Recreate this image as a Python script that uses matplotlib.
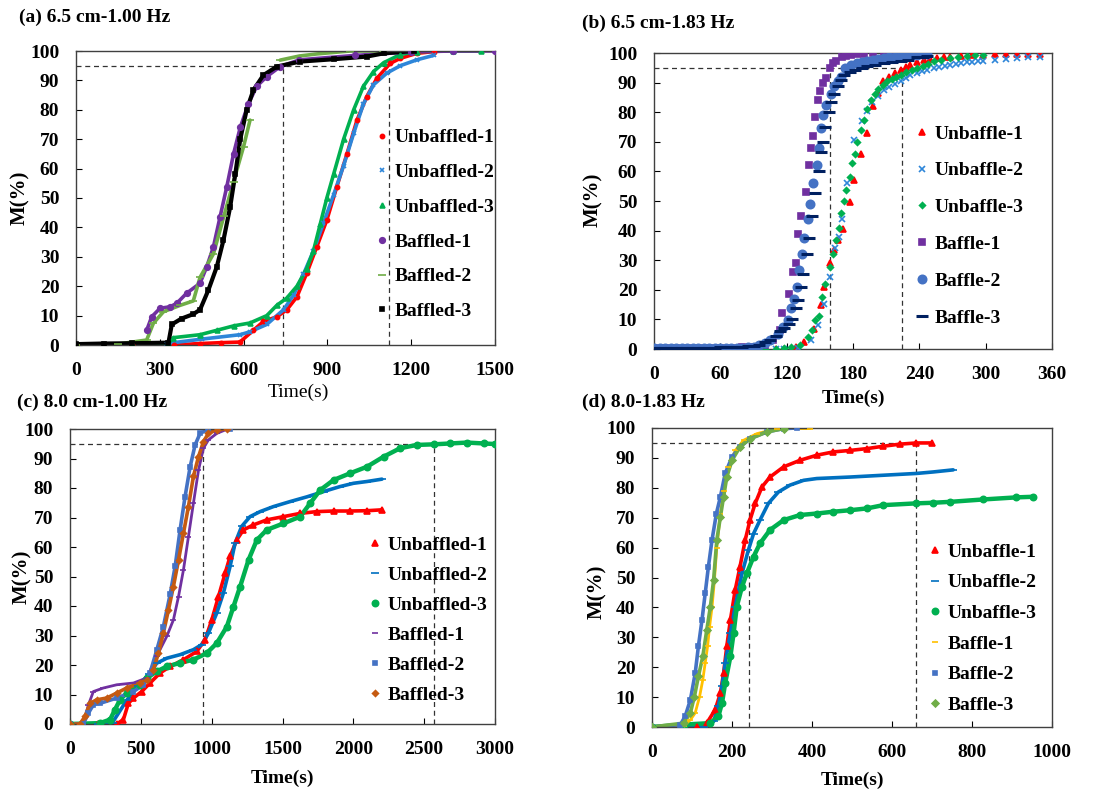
import numpy as np
import matplotlib.pyplot as plt

plt.rcParams['font.family'] = ['Liberation Serif', 'DejaVu Serif']
plt.rcParams['font.size'] = 14

# ---------------- (a) 6.5 cm - 1.00 Hz ----------------
a_unb1_t = [0, 200, 350, 444, 520, 587, 635, 671, 719, 755, 791, 826, 862, 898, 934, 970, 1006, 1041, 1077, 1125, 1161, 1220, 1280]
a_unb1_m = [0, 0, 0, 0.5, 0.8, 1.0, 5, 8, 9.6, 12, 16.4, 24.4, 33.4, 42.5, 53.9, 65, 76.5, 84.5, 90.7, 95.8, 97.5, 99.2, 99.8]
a_unb2_t = [0, 200, 325, 450, 587, 623, 683, 743, 779, 814, 850, 886, 922, 958, 994, 1029, 1065, 1113, 1161, 1220, 1280]
a_unb2_m = [0, 0, 0.5, 2, 3.5, 4.5, 7, 12, 17, 24, 32, 41.5, 51, 61, 72, 82, 88.5, 92.5, 95, 97, 98.5]
a_unb3_t = [0, 200, 330, 349, 444, 504, 564, 623, 683, 719, 755, 791, 826, 850, 874, 898, 922, 958, 994, 1029, 1065, 1101, 1161, 1220, 1350, 1450]
a_unb3_m = [0, 0.2, 0.5, 2.5, 3.5, 5, 6.5, 7.5, 10, 13.5, 16, 20, 26, 32, 41, 50, 58, 70, 80, 88, 93, 96, 98.8, 99.8, 100, 100]
a_baf1_t = [253, 271, 301, 337, 361, 396, 444, 468, 492, 516, 540, 564, 588, 617, 647, 683, 731, 800, 1000, 1200, 1350, 1500]
a_baf1_m = [5, 9.6, 12.5, 13, 14.2, 17.6, 21, 26.6, 33.4, 43.7, 53.9, 65, 74, 82, 88, 91.3, 94.7, 97, 98.5, 99.7, 100, 100]
a_baf2_t = [0, 150, 253, 277, 313, 373, 420, 444, 492, 530, 564, 600, 623, np.nan, 731, 800, 862, 982, 1100]
a_baf2_m = [0, 0.3, 1.7, 7.4, 11.3, 13.5, 15, 23, 31, 44, 55.6, 67.5, 76.5, np.nan, 96.9, 98.3, 99, 100, 100]
a_baf3_t = [0, 100, 200, 331, 343, 378, 420, 444, 474, 504, 528, 552, 570, 588, 611, 635, 671, 719, 802, 922, 1041, 1101, 1210]
a_baf3_m = [0.3, 0.5, 0.6, 0.8, 7, 9, 10.5, 12, 18.7, 26.6, 35.7, 47, 58, 70, 80, 86.7, 91.8, 94.7, 96.4, 97.2, 98.1, 99.2, 100]

# ---------------- (b) 6.5 cm - 1.83 Hz ----------------
b_unb1_t = [100, 110, 118, 128, 136, 145, 151, 154, 159, 163, 166, 171, 177, 181, 187, 193, 198, 203, 207, 213, 218, 223, 228, 232, 238, 244, 250, 256, 262, 268, 278, 288, 298, 308, 318, 328, 338, 349]
b_unb1_m = [0, 0, 0, 0.8, 2.4, 6.9, 14.8, 21, 28.9, 33.5, 36.8, 40.7, 49.8, 57, 66, 73, 82, 86.5, 90.4, 92, 93.3, 94.4, 95.3, 96, 97, 97.7, 98, 98.3, 98.5, 98.6, 99, 99.2, 99.4, 99.5, 99.6, 99.7, 99.7, 99.7]
b_unb2_t = [100, 110, 118, 130, 142, 148, 154, 159, 164, 167, 170, 175, 181, 188, 193, 197, 203, 208, 213, 218, 223, 228, 232, 238, 242, 247, 253, 258, 263, 268, 273, 278, 283, 288, 293, 298, 308, 318, 328, 338, 349]
b_unb2_m = [0, 0, 0, 0.5, 3, 8, 15.3, 24.4, 34, 38, 44, 56, 70.7, 77, 80.5, 83.6, 85.5, 87.6, 88.5, 89.6, 90.4, 91.5, 92.7, 93.2, 93.8, 94.4, 94.9, 95.3, 95.7, 96, 96.3, 96.6, 96.9, 97.1, 97.3, 97.4, 97.8, 98.1, 98.3, 98.5, 98.6]
b_unb3_t = [100, 110, 118, 124, 132, 139, 143, 146, 149, 152, 155, 159, 162, 165, 167, 169, 172, 174, 177, 179, 182, 184, 187, 190, 193, 196, 200, 203, 207, 211, 215, 219, 223, 228, 233, 238, 243, 248, 253, 260, 268, 275, 283, 290, 298]
b_unb3_m = [0, 0, 0.3, 0.7, 1.5, 4, 6.5, 9.7, 11, 17.6, 22, 27.8, 32, 36.8, 41, 45.8, 50, 53.7, 58, 62.8, 66, 70, 74, 77.4, 81, 84.2, 86, 88, 89.3, 90.4, 91.3, 92, 92.7, 93.5, 94.2, 95, 95.7, 96.4, 97.2, 97.7, 98.3, 98.7, 99, 99.2, 99.4]
b_baf1_t = [0, 10, 20, 30, 40, 50, 60, 70, 80, 90, 100, 108, 114, 116, 122, 126, 128, 130, 133, 137.5, 140, 142, 144, 146, 148, 150, 153, 155.5, 159, 162, 165, 170, 174, 178, 184, 190, 198, 208, 218, 228, 238]
b_baf1_m = [0.3, 0.3, 0.3, 0.3, 0.3, 0.3, 0.4, 0.5, 0.6, 0.8, 1.5, 3, 6.3, 12, 18.7, 26, 29, 39, 45, 53, 62, 68, 72, 78.5, 84, 87, 90, 91.5, 95, 96.5, 97.4, 98.6, 99, 99.4, 99.6, 99.8, 100, 100, 100, 100, 100]
b_baf2_t = [0, 5, 10, 15, 20, 25, 30, 35, 40, 45, 50, 55, 60, 65, 70, 75, 80, 85, 90, 95, 100, 105, 112, 117, 121, 124, 127, 129, 131, 134, 136, 139, 141, 144, 147, 149, 151, 153, 155.5, 160, 163, 166, 169, 173, 178, 184, 188, 193, 198, 203, 208, 213, 218, 223, 228, 233, 238, 243, 247]
b_baf2_m = [0.2, 0.2, 0.2, 0.2, 0.2, 0.2, 0.2, 0.2, 0.2, 0.3, 0.3, 0.3, 0.3, 0.3, 0.4, 0.4, 0.5, 0.6, 0.8, 1.2, 2, 3, 5.2, 7.5, 9.7, 14, 17, 21, 26.6, 32, 37.4, 44, 49, 56, 62, 68, 74.6, 79, 82.5, 86, 88.7, 90.5, 92, 95, 95.8, 96.6, 97, 97.2, 97.6, 98, 98.3, 98.6, 98.8, 98.9, 99.1, 99.3, 99.4, 99.6, 99.8]
b_baf3_t = [0, 5, 10, 15, 20, 25, 30, 35, 40, 45, 50, 55, 60, 65, 70, 75, 80, 85, 90, 95, 100, 105, 110, 114, 118, 122, 125, 128, 130, 133, 135, 138, 140, 143, 146, 149, 151, 153, 155, 158, 160, 163, 166, 169, 172, 177, 182, 188, 193, 200, 208, 215, 223, 230, 238, 243, 247]
b_baf3_m = [0.5, 0.5, 0.5, 0.5, 0.5, 0.5, 0.5, 0.5, 0.5, 0.5, 0.5, 0.5, 0.6, 0.6, 0.7, 0.7, 0.8, 0.9, 1.1, 1.5, 2.2, 3, 4.5, 6, 7, 8.5, 10.3, 14, 16.5, 21, 25.5, 32, 37.4, 45, 52.6, 60, 66.7, 70, 75, 80, 83.6, 86, 88.7, 91, 92.7, 93.6, 94.4, 95, 95.5, 96.1, 96.6, 97, 97.2, 97.8, 98.6, 98.8, 98.9]

# ---------------- (c) 8.0 cm - 1.00 Hz ----------------
c_unb1_t = [0, 200, 330, 377, 412, 448, 506, 565, 636, 707, 801, 895, 954, 1001, 1048, 1095, 1130, 1177, 1224, 1295, 1389, 1507, 1625, 1743, 1860, 1978, 2096, 2202]
c_unb1_m = [0, 0, 0, 1.5, 7, 8.8, 11, 13.9, 17.3, 19.5, 21.8, 24.6, 28.6, 35.3, 43.2, 51.1, 56.8, 62.4, 65.8, 67.5, 69.2, 70.3, 71.4, 72, 72.2, 72.2, 72.3, 72.6]
c_unb2_t = [0, 200, 300, 400, 480, 560, 612, 683, 777, 871, 930, 977, 1036, 1083, 1130, 1165, 1212, 1271, 1342, 1436, 1554, 1672, 1790, 1907, 2001, 2096, 2202]
c_unb2_m = [0, 0, 0.5, 8, 13, 17, 20.6, 22.3, 23.5, 25.2, 26.9, 30.8, 37.6, 44.4, 53.4, 61.3, 67, 70.3, 72, 73.7, 75.4, 77, 78.8, 80.5, 81.6, 82.2, 83]
c_unb3_t = [0, 212, 283, 318, 353, 400, 495, 542, 612, 683, 777, 871, 965, 1036, 1107, 1154, 1201, 1260, 1319, 1389, 1507, 1625, 1695, 1766, 1860, 1978, 2096, 2213, 2331, 2449, 2567, 2685, 2802, 2920, 3000]
c_unb3_m = [0, 0.3, 1.5, 4.9, 8.2, 10.5, 13.3, 15.6, 17.8, 19.5, 20.7, 21.8, 24, 27.4, 33, 39.8, 46.6, 55.6, 62.4, 65.8, 68, 70.3, 74.8, 79.3, 82.7, 85, 87.2, 90.6, 93.5, 94.6, 94.8, 95.1, 95.4, 95.1, 94.9]
c_baf1_t = [0, 94, 130, 165, 235, 330, 448, 542, 612, 683, 730, 766, 801, 836, 871, 907, 942, 977, 1036, 1107]
c_baf1_m = [0, 0, 6.5, 11, 12.2, 13.3, 13.9, 15.6, 23, 29.7, 35.3, 43.2, 52.3, 63.5, 74.8, 86, 93.5, 96.3, 98.5, 99.9]
c_baf2_t = [0, 94, 130, 165, 212, 330, 448, 518, 565, 612, 659, 707, 742, 777, 812, 848, 883, 918, 977, 1130]
c_baf2_m = [0, 0, 3.7, 6.5, 7, 8.8, 11, 13.3, 17.3, 25, 33, 44, 53.4, 65.8, 77, 87.2, 94.6, 98.5, 99.9, 100]
c_baf3_t = [0, 71, 106, 141, 188, 259, 330, 400, 495, 542, 589, 624, 659, 695, 730, 766, 801, 836, 871, 907, 942, 977, 1036, 1107]
c_baf3_m = [0, 0, 2.6, 7, 8.2, 8.8, 10.5, 12.2, 13.9, 15, 18.4, 24, 30.8, 38.7, 46.6, 55.6, 64.7, 73.7, 83.9, 90.6, 95.7, 98.5, 99.7, 100]

# ---------------- (d) 8.0 - 1.83 Hz ----------------
d_unb1_t = [0, 112, 137, 158, 171, 179, 187, 196, 208, 220, 233, 245, 258, 275, 295, 329, 370, 412, 453, 495, 537, 578, 620, 661, 699]
d_unb1_m = [0, 0, 1.3, 5.8, 11.3, 18, 27, 35.8, 45.8, 53.6, 62.5, 69.2, 74.8, 80.3, 83.6, 87, 89.2, 90.9, 92, 92.5, 93.1, 93.9, 94.6, 95, 95]
d_unb2_t = [0, 129, 154, 166, 175, 183, 196, 208, 225, 241, 254, 270, 291, 316, 345, 379, 412, 495, 578, 661, 703, 753]
d_unb2_m = [0, 0, 1.9, 6.9, 13.6, 21.4, 31.4, 40.3, 51.4, 59.2, 64.7, 69.2, 74.8, 78.6, 80.9, 82.5, 83.1, 83.6, 84.2, 84.8, 85.3, 86]
d_unb3_t = [0, 79, 146, 166, 175, 183, 196, 204, 212, 225, 237, 254, 270, 295, 329, 370, 412, 453, 495, 537, 578, 661, 703, 745, 828, 911, 953]
d_unb3_m = [0, 0.8, 1.3, 3.6, 8, 14.7, 23.6, 31.4, 40.3, 46.9, 51.4, 57, 61.4, 65.9, 69.2, 70.9, 71.4, 72, 72.5, 73.1, 74.2, 74.8, 75, 75.3, 76.1, 76.8, 77]
d_baf1_t = [0, 79, 96, 108, 119, 127, 133, 139, 144, 150, 156, 162, 171, 179, 191, 208, 229, 262, 312, 395]
d_baf1_m = [0, 0.4, 2.4, 4.7, 10.2, 15.8, 21.4, 27, 33.6, 40, 49, 60, 71.4, 79, 87, 92.5, 95.9, 98.1, 99.8, 99.8]
d_baf2_t = [0, 71, 83, 96, 108, 116, 125, 133, 141, 150, 161, 171, 183, 200, 220, 245, 287, 329, 362]
d_baf2_m = [0, 0.8, 3.6, 9.1, 18, 27, 35.8, 44.7, 53.6, 62.5, 71.4, 77, 84.8, 90.3, 93.7, 96.4, 98.7, 99.8, 100]
d_baf3_t = [0, 79, 96, 106, 116, 127, 137, 146, 154, 162, 171, 179, 187, 200, 220, 245, 287, 329]
d_baf3_m = [0, 1.3, 4.7, 10.2, 16.9, 23.6, 32.5, 40.3, 49.2, 62.5, 70.3, 77, 83.6, 89.2, 93.7, 96.4, 98.7, 99.8]

RED = '#FF0000'
BLUE = '#2E86D9'
GREEN = '#00B050'
PURPLE = '#7030A0'
LGREEN = '#70AD47'
MBLUE = '#4472C4'
NAVY = '#002060'
BROWN = '#C55A11'
YELLOW = '#FFC000'

W, H = 1102, 793
fig = plt.figure(figsize=(W / 100, H / 100), dpi=100)


def add_ax(l, t, r, b):
    return fig.add_axes([l / W, 1 - b / H, (r - l) / W, (b - t) / H])


def style(ax, xmax, xstep):
    ax.set_xlim(0, xmax)
    ax.set_ylim(0, 100)
    ax.set_xticks(np.arange(0, xmax + 1, xstep))
    ax.set_yticks(np.arange(0, 101, 10))
    ax.tick_params(direction='in', length=4, width=0.8, labelsize=14, pad=12)
    for lab in ax.get_xticklabels() + ax.get_yticklabels():
        lab.set_fontweight('bold')
    for sp in ax.spines.values():
        sp.set_color('#404040')
        sp.set_linewidth(1.0)


def guides(ax, xs):
    ax.plot([0, max(xs)], [95, 95], color='#333333', lw=0.9, ls=(0, (4, 3)), zorder=1)
    for x in xs:
        ax.plot([x, x], [0, 95], color='#333333', lw=0.9, ls=(0, (4, 3)), zorder=1)


def series(ax, t, m, color, marker, label, ms=4, lw=2.6, line=True):
    if line:
        ax.plot(t, m, color=color, lw=lw, solid_capstyle='round', zorder=2)
    ax.plot(t, m, ls='none', marker=marker, color=color, ms=ms, mew=1.2, label=label, zorder=3)


def legend(ax, x, y, spacing):
    ax.legend(loc='center left', bbox_to_anchor=(x, y), frameon=False, handlelength=0.8,
              handletextpad=0.25, borderpad=0, borderaxespad=0, labelspacing=spacing,
              prop={'weight': 'bold', 'size': 14}, markerscale=1.0)


# (a)
ax = add_ax(76, 51, 495, 345)
guides(ax, [740, 1120])
series(ax, a_unb1_t, a_unb1_m, RED, 'o', 'Unbaffled-1', ms=3)
series(ax, a_unb2_t, a_unb2_m, BLUE, 'x', 'Unbaffled-2', ms=3.5)
series(ax, a_unb3_t, a_unb3_m, GREEN, '^', 'Unbaffled-3', ms=3.5)
series(ax, a_baf1_t, a_baf1_m, PURPLE, 'o', 'Baffled-1', ms=4)
series(ax, a_baf2_t, a_baf2_m, LGREEN, '_', 'Baffled-2', ms=6)
series(ax, a_baf3_t, a_baf3_m, 'black', 's', 'Baffled-3', ms=3.5, lw=3)
style(ax, 1500, 300)
legend(ax, 0.711, 0.41, 0.88)

# (b)
ax = add_ax(654, 53, 1052, 349)
guides(ax, [159, 224])
series(ax, b_unb1_t, b_unb1_m, RED, '^', 'Unbaffle-1', ms=4, line=False)
series(ax, b_unb2_t, b_unb2_m, BLUE, 'x', 'Unbaffle-2', ms=4, line=False)
series(ax, b_unb3_t, b_unb3_m, GREEN, 'D', 'Unbaffle-3', ms=3, line=False)
series(ax, b_baf1_t, b_baf1_m, PURPLE, 's', 'Baffle-1', ms=4.5, line=False)
series(ax, b_baf2_t, b_baf2_m, MBLUE, 'o', 'Baffle-2', ms=6, line=False)
series(ax, b_baf3_t, b_baf3_m, NAVY, '_', 'Baffle-3', ms=8, line=False)
ax.get_lines()[-1].set_markeredgewidth(2.2)
style(ax, 360, 60)
legend(ax, 0.654, 0.416, 0.99)

# (c)
ax = add_ax(70, 429, 495, 724)
guides(ax, [937, 2571])
series(ax, c_unb1_t, c_unb1_m, RED, '^', 'Unbaffled-1', ms=4)
series(ax, c_unb2_t, c_unb2_m, '#0070C0', '_', 'Unbaffled-2', ms=6)
series(ax, c_unb3_t, c_unb3_m, GREEN, 'o', 'Unbaffled-3', ms=4.5, lw=3.2)
series(ax, c_baf1_t, c_baf1_m, PURPLE, '_', 'Baffled-1', ms=4, lw=2)
series(ax, c_baf2_t, c_baf2_m, MBLUE, 's', 'Baffled-2', ms=3.5)
series(ax, c_baf3_t, c_baf3_m, BROWN, 'D', 'Baffled-3', ms=3)
style(ax, 3000, 500)
legend(ax, 0.699, 0.353, 0.64)

# (d)
ax = add_ax(652, 428, 1052, 727)
guides(ax, [242, 660])
series(ax, d_unb1_t, d_unb1_m, RED, '^', 'Unbaffle-1', ms=4)
series(ax, d_unb2_t, d_unb2_m, '#0070C0', '_', 'Unbaffle-2', ms=6)
series(ax, d_unb3_t, d_unb3_m, GREEN, 'o', 'Unbaffle-3', ms=4.5, lw=3.2)
series(ax, d_baf1_t, d_baf1_m, YELLOW, '_', 'Baffle-1', ms=5, lw=2)
series(ax, d_baf2_t, d_baf2_m, MBLUE, 's', 'Baffle-2', ms=3.5)
series(ax, d_baf3_t, d_baf3_m, LGREEN, 'D', 'Baffle-3', ms=3.5)
style(ax, 1000, 200)
legend(ax, 0.6875, 0.329, 0.67)

# panel titles, axis labels
bold = {'fontweight': 'bold', 'fontsize': 14}
for x, y, s in [(19, 17, '(a) 6.5 cm-1.00 Hz'), (582, 23, '(b) 6.5 cm-1.83 Hz'),
                (17, 402, '(c) 8.0 cm-1.00 Hz'), (582, 402, '(d) 8.0-1.83 Hz')]:
    fig.text(x / W, 1 - y / H, s, ha='left', va='center', **bold)

for x, y in [(20, 198), (593, 200), (22, 577), (597, 592)]:
    fig.text(x / W, 1 - y / H, 'M(%)', rotation=90, ha='center', va='center',
             fontweight='bold', fontsize=15)

fig.text(298 / W, 1 - 392 / H, 'Time(s)', ha='center', va='center', fontsize=14)
for x, y in [(853, 398), (282, 778), (852, 780)]:
    fig.text(x / W, 1 - y / H, 'Time(s)', ha='center', va='center', **bold)

fig.savefig('out.png', dpi=100)
